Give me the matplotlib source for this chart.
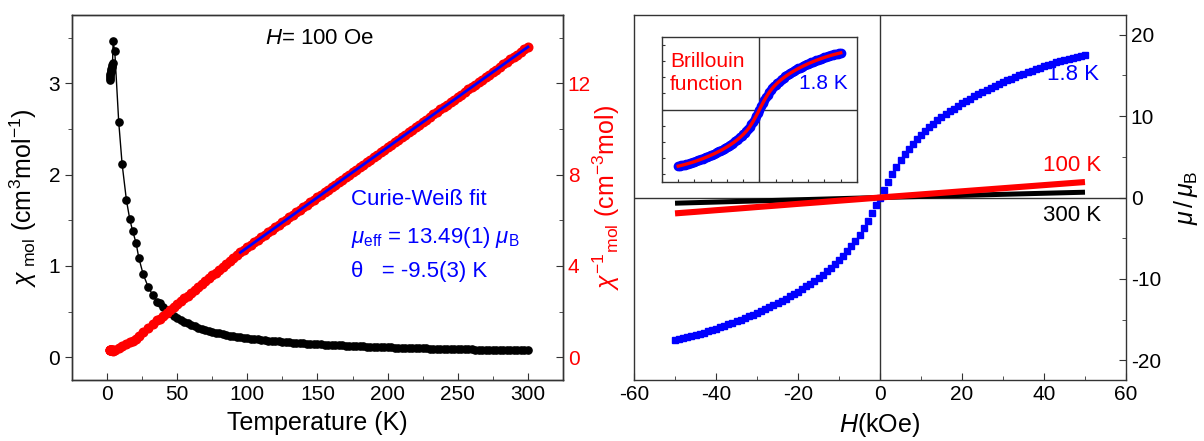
# -*- coding: utf-8 -*-
import numpy as np
import matplotlib
matplotlib.use("Agg")
import matplotlib.pyplot as plt
from matplotlib.ticker import MultipleLocator

plt.rcParams['font.family'] = ['Liberation Sans', 'DejaVu Sans']
plt.rcParams['mathtext.fontset'] = 'custom'
plt.rcParams['mathtext.rm'] = 'Liberation Sans'
plt.rcParams['mathtext.it'] = 'Liberation Sans:italic'
plt.rcParams['axes.unicode_minus'] = False

# ---- left panel: chi(T) at H = 100 Oe ----
temp_low = [1.8, 2.0, 2.2, 2.4, 2.6, 2.8, 3.0, 3.3, 3.6, 3.9, 4.3, 5.5, 8.3, 10.7,
            13.8, 16.2, 18.3, 20.7, 22.6, 25.7, 29.3, 32.6, 35.7]
chi_low = [3.04, 3.06, 3.08, 3.10, 3.12, 3.14, 3.16, 3.18, 3.20, 3.22, 3.46, 3.35,
           2.58, 2.12, 1.72, 1.51, 1.38, 1.25, 1.09, 0.91, 0.77, 0.68, 0.61]
temp_mid = [37.5, 40, 42.5, 45, 47.5, 50, 52.5, 55, 57.5, 60, 62.5, 65, 67.5, 70,
            72.5, 75, 77.5, 80, 82.5, 85, 87.5, 90, 92.5, 95, 97.5, 100]
chi_mid = [0.590, 0.549, 0.514, 0.483, 0.455, 0.430, 0.408, 0.388, 0.370, 0.354,
           0.339, 0.325, 0.312, 0.300, 0.289, 0.279, 0.270, 0.261, 0.252, 0.245,
           0.237, 0.230, 0.2237, 0.2178, 0.2128, 0.2079]
temp_high = list(np.arange(102.5, 300.1, 2.5))
chi_high = [0.2032, 0.1988, 0.1945, 0.1905, 0.1866, 0.1828, 0.1792, 0.1758,
            0.1724, 0.1692, 0.1661, 0.1632, 0.1603, 0.1575, 0.1548, 0.1522,
            0.1497, 0.1473, 0.1450, 0.1427, 0.1405, 0.1384, 0.1363, 0.1343,
            0.1323, 0.1304, 0.1286, 0.1268, 0.1251, 0.1234, 0.1217, 0.1201,
            0.1185, 0.1170, 0.1155, 0.1141, 0.1127, 0.1113, 0.1100, 0.1086,
            0.1074, 0.1061, 0.1049, 0.1037, 0.1025, 0.1014, 0.1003, 0.0992,
            0.0981, 0.0971, 0.0960, 0.0950, 0.0940, 0.0931, 0.0921, 0.0912,
            0.0903, 0.0894, 0.0886, 0.0877, 0.0869, 0.0861, 0.0852, 0.0845,
            0.0837, 0.0829, 0.0822, 0.0814, 0.0807, 0.0800, 0.0793, 0.0786,
            0.0779, 0.0773, 0.0766, 0.0760, 0.0754, 0.0747, 0.0741, 0.0735]

# Curie-Weiss fit line (95 K - 300 K)
fit_temp = [95, 300]
fit_inv_chi = [4.59, 13.60]

# ---- right panel: M(H) ----
field_neg = list(range(-50, 0))
m18_neg = [-17.5, -17.38, -17.26, -17.13, -17.0, -16.86, -16.72, -16.57, -16.42,
           -16.26, -16.1, -15.93, -15.75, -15.57, -15.38, -15.19, -14.99, -14.79,
           -14.58, -14.37, -14.15, -13.92, -13.69, -13.45, -13.2, -12.95, -12.69,
           -12.42, -12.14, -11.85, -11.55, -11.24, -10.92, -10.58, -10.23, -9.86,
           -9.47, -9.06, -8.63, -8.18, -7.7, -7.18, -6.62, -6.0, -5.32, -4.56,
           -3.74, -2.86, -1.94, -0.98]
field_pos = list(range(0, 51))
m18_pos = [0.0, 0.98, 1.94, 2.86, 3.74, 4.56, 5.32, 6.0, 6.62, 7.18, 7.7, 8.18,
           8.63, 9.06, 9.47, 9.86, 10.23, 10.58, 10.92, 11.24, 11.55, 11.85, 12.14,
           12.42, 12.69, 12.95, 13.2, 13.45, 13.69, 13.92, 14.15, 14.37, 14.58,
           14.79, 14.99, 15.19, 15.38, 15.57, 15.75, 15.93, 16.1, 16.26, 16.42,
           16.57, 16.72, 16.86, 17.0, 17.13, 17.26, 17.38, 17.5]

field_5 = list(range(-50, 51, 5))
m100 = [-1.95, -1.76, -1.56, -1.37, -1.17, -0.98, -0.78, -0.59, -0.39, -0.2, 0.0,
        0.19, 0.38, 0.57, 0.76, 0.95, 1.14, 1.33, 1.52, 1.71, 1.9]
m300 = [-0.7, -0.63, -0.56, -0.49, -0.42, -0.35, -0.28, -0.21, -0.14, -0.07, 0.0,
        0.065, 0.13, 0.195, 0.26, 0.325, 0.39, 0.455, 0.52, 0.585, 0.65]

BLUE = '#0000ff'
RED = '#ff0000'
SPINE = '#333333'

temp = np.array(temp_low + temp_mid + temp_high)
chi = np.array(chi_low + chi_mid + chi_high)
field = np.array(field_neg + field_pos)
m18 = np.array(m18_neg + m18_pos)

fig = plt.figure(figsize=(12.04, 4.41), dpi=100)
ax1 = fig.add_axes([0.0598, 0.1383, 0.4078, 0.8277])
ax2 = ax1.twinx()
ax3 = fig.add_axes([0.5266, 0.1383, 0.4086, 0.8277])
axin = fig.add_axes([0.5498, 0.5873, 0.162, 0.3288])

for a in (ax1, ax2, ax3, axin):
    for s in a.spines.values():
        s.set_color(SPINE)
        s.set_linewidth(1.0)

# ---------- left ----------
ax1.plot(temp, chi, '-', color='black', lw=1.0, marker='o', ms=5.2, mec='black',
         mfc='black', zorder=3)
ax1.set_xlim(-25, 325)
ax1.set_ylim(-0.25, 3.75)
ax1.xaxis.set_major_locator(MultipleLocator(50))
ax1.xaxis.set_minor_locator(MultipleLocator(25))
ax1.yaxis.set_major_locator(MultipleLocator(1))
ax1.yaxis.set_minor_locator(MultipleLocator(0.5))
ax1.tick_params(axis='x', which='both', direction='in', top=False, labelsize=15,
                color=SPINE)
ax1.tick_params(axis='y', which='both', direction='out', labelsize=15, color=SPINE)
ax1.tick_params(which='major', length=5)
ax1.tick_params(which='minor', length=3)
ax1.set_xlabel('Temperature (K)', fontsize=18, labelpad=5)
ax1.set_ylabel(r'$\chi_{\rm\ mol}$ (cm$^3$mol$^{-1}$)', fontsize=18, labelpad=7)

ax2.plot(temp, 1.0 / chi, 'o', color=RED, ms=6.2, mec=RED, mfc=RED, zorder=2)
ax2.plot(fit_temp, fit_inv_chi, '-', color=BLUE, lw=2.0, zorder=4)
ax2.set_ylim(-1, 15)
ax2.yaxis.set_major_locator(MultipleLocator(4))
ax2.yaxis.set_minor_locator(MultipleLocator(2))
ax2.tick_params(axis='y', which='both', direction='in', labelsize=15,
                labelcolor=RED, color=SPINE)
ax2.tick_params(which='major', length=5)
ax2.tick_params(which='minor', length=3)
ax2.set_ylabel(r'$\chi^{-1}{}_{\rm mol}$ (cm$^{-3}$mol)', fontsize=18, color=RED,
               labelpad=0)

ax1.text(0.505, 0.935, r'$H$= 100 Oe', transform=ax1.transAxes, fontsize=16,
         ha='center', va='center')
ax1.text(0.568, 0.495, 'Curie-Weiß fit', transform=ax1.transAxes, fontsize=16,
         color=BLUE, ha='left', va='center')
ax1.text(0.568, 0.39, r'$\mu_{\rm eff}$ = 13.49(1) $\mu_{\rm B}$',
         transform=ax1.transAxes, fontsize=16, color=BLUE, ha='left', va='center')
ax1.text(0.568, 0.297, 'θ   = -9.5(3) K', transform=ax1.transAxes, fontsize=16,
         color=BLUE, ha='left', va='center')

# ---------- right ----------
ax3.axhline(0, color=SPINE, lw=1.0, zorder=1)
ax3.axvline(0, color=SPINE, lw=1.0, zorder=1)
ax3.plot(field, m18, 's', color=BLUE, ms=4.8, mec=BLUE, mfc=BLUE, zorder=2)
ax3.plot(field_5, m300, '-', color='black', lw=3.6, solid_capstyle='butt', zorder=3)
ax3.plot(field_5, m100, '-', color=RED, lw=4.4, solid_capstyle='butt', zorder=4)
ax3.set_xlim(-60, 60)
ax3.set_ylim(-22.4, 22.4)
ax3.xaxis.set_major_locator(MultipleLocator(20))
ax3.xaxis.set_minor_locator(MultipleLocator(10))
ax3.yaxis.set_major_locator(MultipleLocator(10))
ax3.yaxis.set_minor_locator(MultipleLocator(5))
ax3.yaxis.tick_right()
ax3.yaxis.set_label_position('right')
ax3.tick_params(which='both', direction='in', labelsize=15, color=SPINE,
                left=False, top=False)
ax3.tick_params(which='major', length=5)
ax3.tick_params(which='minor', length=3)
ax3.set_xlabel(r'$H$(kOe)', fontsize=18, labelpad=5)
ax3.set_ylabel(r'$\mu\,/\,\mu_{\rm B}$', fontsize=18, labelpad=8)

ax3.text(53.5, 15.1, '1.8 K', color=BLUE, fontsize=16, ha='right', va='center')
ax3.text(54.0, 3.9, '100 K', color=RED, fontsize=16, ha='right', va='center')
ax3.text(54.0, -2.2, '300 K', color='black', fontsize=16, ha='right', va='center')

# ---------- inset ----------
axin.axhline(0, color=SPINE, lw=1.0, zorder=1)
axin.axvline(0, color=SPINE, lw=1.0, zorder=1)
axin.plot(field, m18, 'o', color=BLUE, ms=6.0, mec=BLUE, mfc=BLUE, zorder=2)
axin.plot(field, m18, '-', color=RED, lw=2.4, zorder=3)
axin.set_xlim(-60, 60)
axin.set_ylim(-22.4, 22.4)
axin.xaxis.set_major_locator(MultipleLocator(10))
axin.yaxis.set_major_locator(MultipleLocator(5))
axin.tick_params(which='both', direction='in', length=2.5, color=SPINE,
                 labelbottom=False, labelleft=False)
axin.text(0.04, 0.75, 'Brillouin\nfunction', transform=axin.transAxes, color=RED,
          fontsize=15, ha='left', va='center', linespacing=1.25)
axin.text(0.95, 0.68, '1.8 K', transform=axin.transAxes, color=BLUE, fontsize=15,
          ha='right', va='center')

fig.savefig('out.png', dpi=100)
